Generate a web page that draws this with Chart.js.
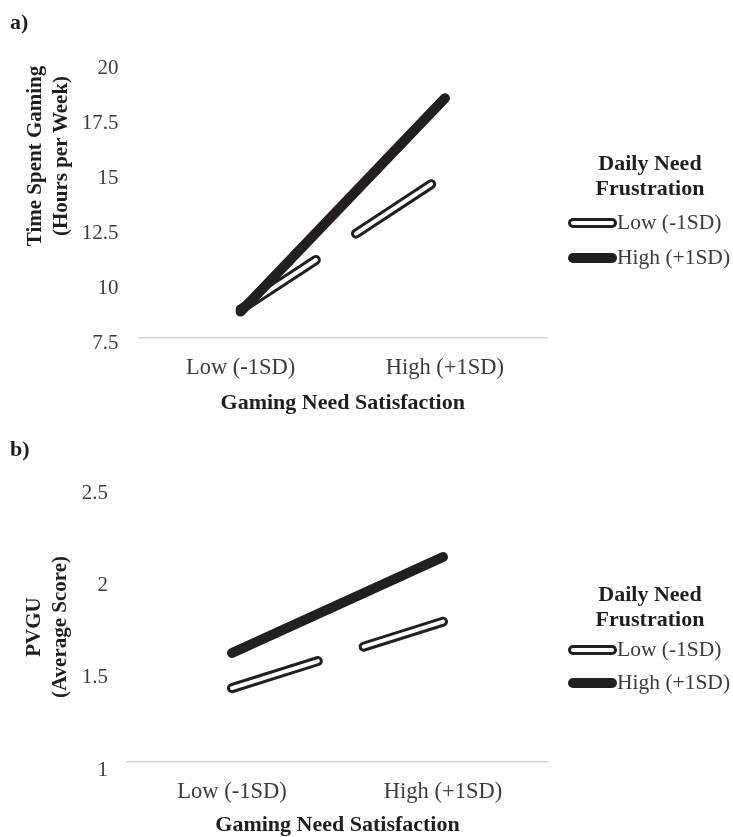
<!DOCTYPE html>
<html>
<head>
  <meta charset="utf-8">
  <title>Gaming Need Satisfaction x Daily Need Frustration</title>
  <script src="https://cdn.jsdelivr.net/npm/chart.js@4.4.1/dist/chart.umd.min.js"></script>
  <style>
    body { margin: 0; background: #fff; font-family: "Liberation Serif", "Times New Roman", serif; }
    .panel { position: absolute; left: 0; width: 733px; height: 420px; }
    .panel canvas { position: absolute; left: 0; top: 0; }
    .tag { position: absolute; left: 10px; font-weight: bold; font-size: 22px; line-height: 22px; color: #1f1f1f; }
    .ytitle { position: absolute; transform: translate(-50%, -50%) rotate(-90deg); white-space: nowrap;
              text-align: center; font-size: 21px; line-height: 26px; font-weight: bold; color: #1f1f1f; }
    .legend { position: absolute; left: 560px; width: 180px; font-size: 21.5px; color: #3b3b3b; }
    .legend .ttl { position: absolute; left: 30px; width: 120px; text-align: center; font-weight: bold;
                   font-size: 22px; color: #1f1f1f; line-height: 25px; }
    .legend .item { position: absolute; left: 8px; height: 26px; line-height: 26px; white-space: nowrap; }
    .legend .sw { display: inline-block; width: 49px; height: 10px; box-sizing: border-box; border-radius: 5px;
                  vertical-align: middle; margin-top: -3px; }
    .sw.hollow { border: 3px solid #231f20; background: #fff; }
    .sw.solid { background: #231f20; }
  </style>
</head>
<body>

<div class="panel" id="panelA" style="top:0">
  <canvas id="chartA" width="733" height="420"></canvas>
  <div class="tag" style="top:11px">a)</div>
  <div class="ytitle" style="left:47px; top:156px">Time Spent Gaming<br>(Hours per Week)</div>
  <div class="legend" style="top:0">
    <div class="ttl" style="top:150px">Daily Need<br>Frustration</div>
    <div class="item" style="top:209px"><span class="sw hollow"></span>Low (-1SD)</div>
    <div class="item" style="top:244px"><span class="sw solid"></span>High (+1SD)</div>
  </div>
</div>

<div class="panel" id="panelB" style="top:420px">
  <canvas id="chartB" width="733" height="420"></canvas>
  <div class="tag" style="top:18px">b)</div>
  <div class="ytitle" style="left:46px; top:207px">PVGU<br>(Average Score)</div>
  <div class="legend" style="top:0">
    <div class="ttl" style="top:161px">Daily Need<br>Frustration</div>
    <div class="item" style="top:216px"><span class="sw hollow"></span>Low (-1SD)</div>
    <div class="item" style="top:249px"><span class="sw solid"></span>High (+1SD)</div>
  </div>
</div>

<script>
// values
const categories = ['Low (-1SD)', 'High (+1SD)'];
const seriesNames = ['Low (-1SD)', 'High (+1SD)'];

const timeLow = [8.8, 14.9];
const timeHigh = [8.7, 18.4];
const timeTicks = [7.5, 10, 12.5, 15, 17.5, 20];

const pvguLow = [1.40, 1.76];
const pvguHigh = [1.59, 2.11];
const pvguTicks = [1, 1.5, 2, 2.5];

const ink = '#231f20';
Chart.defaults.font.family = '"Liberation Serif", "Times New Roman", serif';
Chart.defaults.font.size = 21;
Chart.defaults.color = '#3b3b3b';

function makeChart(id, low, high, ticks, g) {
  var ctx = document.getElementById(id).getContext('2d');
  return new Chart(ctx, {
    type: 'line',
    data: {
      labels: categories,
      datasets: [
        // high frustration: solid thick line, on top
        { label: seriesNames[1], data: high, borderColor: ink, borderWidth: 10,
          borderCapStyle: 'round', borderJoinStyle: 'round', pointRadius: 0, order: 0 },
        // low frustration: hollow dashed line = white core over black outline
        { label: seriesNames[0], data: low, borderColor: '#ffffff', borderWidth: 4,
          borderDash: [90, 48], borderCapStyle: 'round', pointRadius: 0, order: 1 },
        { label: seriesNames[0], data: low, borderColor: ink, borderWidth: 10,
          borderDash: [90, 48], borderCapStyle: 'round', pointRadius: 0, order: 2 }
      ]
    },
    options: {
      responsive: false,
      animation: false,
      layout: { padding: { top: g.top, right: g.right, left: 0, bottom: 0 } },
      plugins: { legend: { display: false }, tooltip: { enabled: false } },
      scales: {
        x: {
          type: 'category',
          offset: true,
          grid: { display: false },
          border: { display: true, color: '#d9d9d9', width: 1.5 },
          ticks: { padding: 9, font: { size: 22.5 } },
          title: { display: true, text: 'Gaming Need Satisfaction', color: '#1f1f1f',
                   font: { weight: 'bold', size: 22 }, padding: { top: 0, bottom: g.titlePad } },
          afterFit: function(scale) { scale.height = g.xHeight; }
        },
        y: {
          min: ticks[0],
          max: ticks[ticks.length - 1],
          grid: { display: false, drawTicks: false },
          border: { display: false },
          ticks: {
            stepSize: ticks[1] - ticks[0], padding: g.tickPad, labelOffset: g.labelOffset,
            callback: function(v) { return String(+v.toFixed(2)); }
          },
          afterFit: function(scale) { scale.width = g.left; }
        }
      }
    }
  });
}

makeChart('chartA', timeLow, timeHigh, timeTicks,
  { top: 63, right: 186, left: 138.5, xHeight: 82, titlePad: 3, tickPad: 20, labelOffset: 5 });
makeChart('chartB', pvguLow, pvguHigh, pvguTicks,
  { top: 65, right: 184.5, left: 126.5, xHeight: 78, titlePad: 1, tickPad: 18.5, labelOffset: 8 });
</script>
</body>
</html>
